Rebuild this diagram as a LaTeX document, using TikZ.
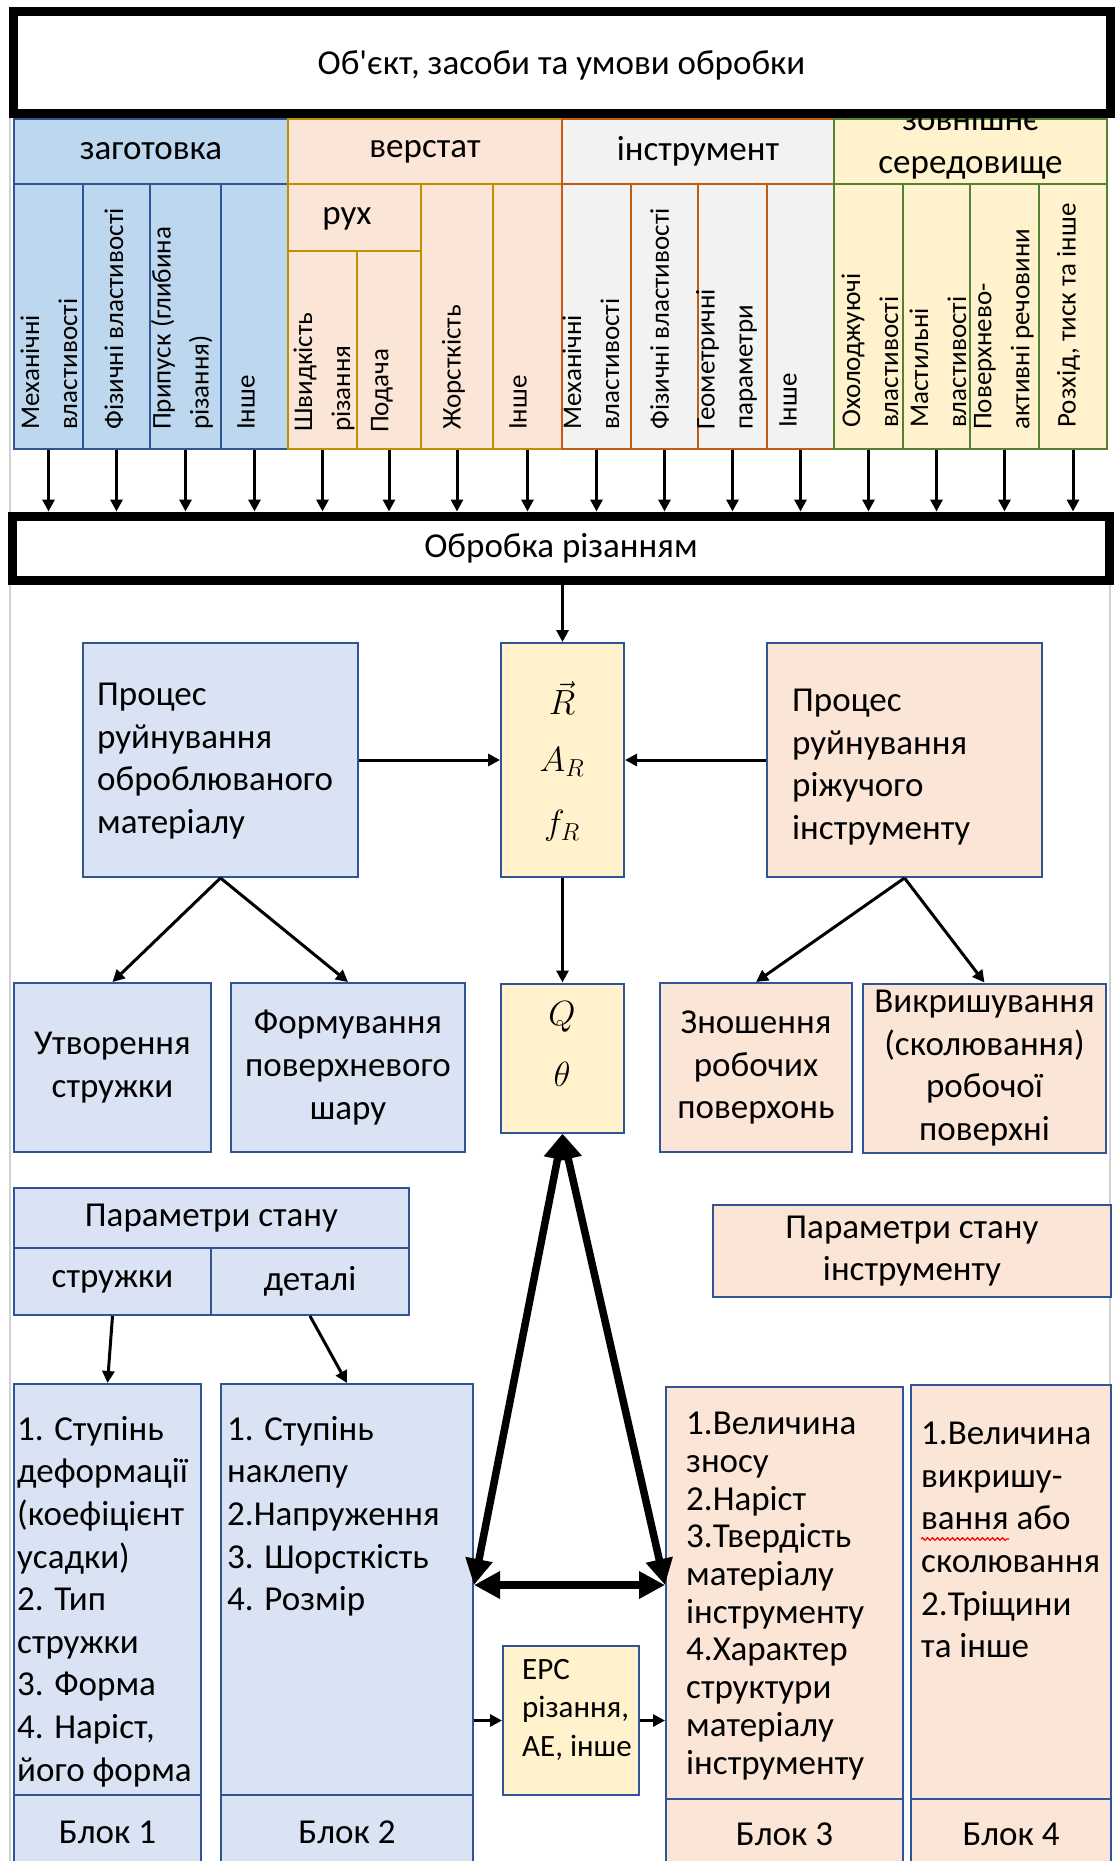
\RequirePackage{fix-cm}
\documentclass[tikz,border=0pt]{standalone}
\usepackage{fontspec}
\setmainfont{Carlito}
\usetikzlibrary{arrows.meta,decorations.pathmorphing}

\definecolor{hdrblue}{HTML}{BDD7EE}
\definecolor{lineblue}{HTML}{2F5597}
\definecolor{boxblue}{HTML}{DAE3F3}
\definecolor{peach}{HTML}{FBE5D6}
\definecolor{gold}{HTML}{BF9000}
\definecolor{lgray}{HTML}{F2F2F2}
\definecolor{rust}{HTML}{C55A11}
\definecolor{cream}{HTML}{FFF2CC}
\definecolor{leaf}{HTML}{548235}

\newcommand{\bigf}{\fontsize{35}{42.6}\selectfont}
\newcommand{\vf}{\fontsize{27}{38}\selectfont}
\newcommand{\smf}{\fontsize{31}{38.5}\selectfont}

\begin{document}
\begin{tikzpicture}[x=1pt, y=-1pt,
  every node/.style={inner sep=0pt, font=\bigf},
  hdr/.style={draw, line width=2pt, minimum height=65},
  col/.style={draw, line width=2pt},
  vtxt/.style={rotate=90, anchor=west, align=left, font=\vf},
  pbox/.style={draw=lineblue, line width=2pt},
  ltxt/.style={anchor=north west, align=left},
  arr/.style={line width=3pt, -{Triangle[length=12pt,width=12pt]}},
  fat/.style={line width=7.5pt, {Triangle[length=26pt,width=26pt]}-{Triangle[length=26pt,width=26pt]}}]
\clip (0,0) rectangle (1116,1861);
\draw[black!18, line width=2.5pt] (10,115) -- (10,1861);
\draw[black!18, line width=2.5pt] (1110,585) -- (1110,1861);

% headers
\node[hdr, fill=hdrblue, draw=lineblue, minimum width=274] (hb) at (151,151.5) {заготовка};
\node[hdr, fill=peach, draw=gold, minimum width=274] (ho) at (425,151.5) {верстат};
\node[hdr, fill=lgray, draw=rust, minimum width=272] (hg) at (698,151.5) {інструмент};
\node[hdr, fill=cream, draw=leaf, minimum width=273] (hgr) at (970.5,151.5) {};
\node[align=center] (hgrt) at (970.5,143) {зовнішнє\\середовище};

% columns
\node[col, fill=hdrblue, draw=lineblue, minimum width=69, minimum height=265] (c1) at (48.5,316.5) {};
\node[col, fill=hdrblue, draw=lineblue, minimum width=67, minimum height=265] (c2) at (116.5,316.5) {};
\node[col, fill=hdrblue, draw=lineblue, minimum width=71, minimum height=265] (c3) at (185.5,316.5) {};
\node[col, fill=hdrblue, draw=lineblue, minimum width=67, minimum height=265] (c4) at (254.5,316.5) {};
\node[col, fill=peach, draw=gold, minimum width=133, minimum height=67] (rux) at (354.5,217.5) {};
\node (ruxt) at (347,219) {рух};
\node[col, fill=peach, draw=gold, minimum width=69, minimum height=198] (c5) at (322.5,350) {};
\node[col, fill=peach, draw=gold, minimum width=64, minimum height=198] (c6) at (389,350) {};
\node[col, fill=peach, draw=gold, minimum width=72, minimum height=265] (c7) at (457,316.5) {};
\node[col, fill=peach, draw=gold, minimum width=69, minimum height=265] (c8) at (527.5,316.5) {};
\node[col, fill=lgray, draw=rust, minimum width=69, minimum height=265] (c9) at (596.5,316.5) {};
\node[col, fill=lgray, draw=rust, minimum width=67, minimum height=265] (c10) at (664.5,316.5) {};
\node[col, fill=lgray, draw=rust, minimum width=69, minimum height=265] (c11) at (732.5,316.5) {};
\node[col, fill=lgray, draw=rust, minimum width=67, minimum height=265] (c12) at (800.5,316.5) {};
\node[col, fill=cream, draw=leaf, minimum width=69, minimum height=265] (c13) at (868.5,316.5) {};
\node[col, fill=cream, draw=leaf, minimum width=67, minimum height=265] (c14) at (936.5,316.5) {};
\node[col, fill=cream, draw=leaf, minimum width=69, minimum height=265] (c15) at (1004.5,316.5) {};
\node[col, fill=cream, draw=leaf, minimum width=68, minimum height=265] (c16) at (1073,316.5) {};

\node[vtxt] (v1) at (49,430) {Механічні\\властивості};
\node[vtxt] (v2) at (114,430) {Фізичні властивості};
\node[vtxt] (v3) at (182,430) {Припуск (глибина\\різання)};
\node[vtxt] (v4) at (246,430) {Інше};
\node[vtxt] (v5) at (324,432) {Швидкість\\різання};
\node[vtxt] (v6) at (382,433) {Подача};
\node[vtxt] (v7) at (453.6,430) {Жорсткість};
\node[vtxt] (v8) at (518,430) {Інше};
\node[vtxt] (v9) at (591,430) {Механічні\\властивості};
\node[vtxt] (v10) at (659.6,430) {Фізичні властивості};
\node[vtxt] (v11) at (726.5,430) {Геометричні\\параметри};
\node[vtxt] (v12) at (788,428) {Інше};
\node[vtxt] (v13) at (870,428) {Охолоджуючі\\властивості};
\node[vtxt] (v14) at (938,428) {Мастильні\\властивості};
\node[vtxt] (v15) at (1004,430) {Поверхнево-\\активні речовини};
\node[vtxt] (v16) at (1068.5,428) {Розхід, тиск та інше};

% the two framed bars
\node[draw, fill=white, line width=9pt, minimum width=1097, minimum height=102] (obj) at (561.5,62) {};
\node (objt) at (561.5,65) {Об\textquotesingle єкт, засоби та умови обробки};
\node[draw, fill=white, line width=9pt, minimum width=1097, minimum height=64] (obr) at (561,548) {Обробка різанням};

\draw[arr] (c1.south) -- (c1.south |- obr.north); \draw[arr] (c2.south) -- (c2.south |- obr.north); \draw[arr] (c3.south) -- (c3.south |- obr.north); \draw[arr] (c4.south) -- (c4.south |- obr.north);
\draw[arr] (c5.south) -- (c5.south |- obr.north); \draw[arr] (c6.south) -- (c6.south |- obr.north); \draw[arr] (c7.south) -- (c7.south |- obr.north); \draw[arr] (c8.south) -- (c8.south |- obr.north);
\draw[arr] (c9.south) -- (c9.south |- obr.north); \draw[arr] (c10.south) -- (c10.south |- obr.north); \draw[arr] (c11.south) -- (c11.south |- obr.north); \draw[arr] (c12.south) -- (c12.south |- obr.north);
\draw[arr] (c13.south) -- (c13.south |- obr.north); \draw[arr] (c14.south) -- (c14.south |- obr.north); \draw[arr] (c15.south) -- (c15.south |- obr.north); \draw[arr] (c16.south) -- (c16.south |- obr.north);

% processes
\node[pbox, fill=boxblue, minimum width=275, minimum height=234] (procL) at (220.5,760) {};
\node[ltxt] (procLt) at (97,683) {Процес\\руйнування\\оброблюваного\\матеріалу};
\node[pbox, fill=cream, minimum width=123, minimum height=234] (force) at (562.5,760) {};
\node (rv) at (562,698) {$\vec{R}$}; \node (ar) at (562,762) {$A_R$}; \node (fr) at (562,826) {$f_R$};
\node[pbox, fill=peach, minimum width=275, minimum height=234] (procR) at (904.5,760) {};
\node[ltxt] (procRt) at (792,689) {Процес\\руйнування\\ріжучого\\інструменту};

\node[pbox, fill=boxblue, minimum width=197, minimum height=169, align=center] (chip) at (112.5,1067.5) {Утворення\\стружки};
\node[pbox, fill=boxblue, minimum width=234, minimum height=169, align=center] (surf) at (348,1067.5) {Формування\\поверхневого\\шару};
\node[pbox, fill=cream, minimum width=123, minimum height=149] (heat) at (562.5,1058) {};
\node (qq) at (562,1017) {$Q$}; \node (th) at (562,1074) {$\theta$};
\node[pbox, fill=peach, minimum width=192, minimum height=169, align=center] (wear) at (756,1067.5) {Зношення\\робочих\\поверхонь};
\node[pbox, fill=peach, minimum width=243, minimum height=169, align=center] (chipng) at (984.5,1068) {Викришування\\(сколювання)\\робочої\\поверхні};

\draw[arr] (obr.south -| force.north) -- (force.north);
\draw[arr] (procL.east) -- (force.west);
\draw[arr] (procR.west) -- (force.east);
\draw[arr] (force.south) -- (heat.north);
\draw[arr] (procL.south) -- (chip.north); \draw[arr] (procL.south) -- (surf.north);
\draw[arr] (procR.south) -- (wear.north); \draw[arr] (procR.south) -- (chipng.north);

% state parameters
\node[pbox, fill=boxblue, minimum width=395, minimum height=60] (pst) at (211.5,1218) {Параметри стану};
\node[pbox, fill=boxblue, minimum width=197, minimum height=67] (pchip) at (112.5,1281.5) {стружки};
\node[pbox, fill=boxblue, minimum width=198, minimum height=67] (pdet) at (310,1281.5) {деталі};
\node[pbox, fill=peach, minimum width=398, minimum height=92, align=center] (ptool) at (912,1251) {Параметри стану\\інструменту};

% blocks
\node[pbox, fill=boxblue, minimum width=187, minimum height=411] (b1) at (107.5,1589.5) {};
\node[ltxt] (b1t) at (17,1416) {1. Ступінь\\деформації\\(коефіцієнт\\усадки)\\2. Тип\\стружки\\3. Форма\\4. Наріст,\\його форма};
\node[pbox, fill=boxblue, minimum width=187, minimum height=75] (b1f) at (107.5,1832.5) {Блок 1};
\node[pbox, fill=boxblue, minimum width=252, minimum height=411] (b2) at (347,1589.5) {};
\node[ltxt] (b2t) at (227,1416) {1. Ступінь\\наклепу\\2.Напруження\\3. Шорсткість\\4. Розмір};
\node[pbox, fill=boxblue, minimum width=252, minimum height=75] (b2f) at (347,1832.5) {Блок 2};
\node[pbox, fill=cream, minimum width=136, minimum height=149] (epc) at (571,1720.5) {};
\node[ltxt, font=\smf] (epct) at (522,1659) {ЕРС\\різання,\\АЕ, інше};
\node[pbox, fill=peach, minimum width=237, minimum height=412] (b3) at (784.5,1593) {};
\node[ltxt, font=\fontsize{35}{37.7}\selectfont] (b3t) at (686,1412) {1.Величина\\зносу\\2.Наріст\\3.Твердість\\матеріалу\\інструменту\\4.Характер\\структури\\матеріалу\\інструменту};
\node[pbox, fill=peach, minimum width=237, minimum height=71] (b3f) at (784.5,1834.5) {Блок 3};
\node[pbox, fill=peach, minimum width=200, minimum height=414] (b4) at (1011,1592) {};
\node[ltxt] (b4t) at (921,1422) {1.Величина\\викришу-\\вання або\\сколювання\\2.Тріщини\\та інше};
\node[pbox, fill=peach, minimum width=200, minimum height=71] (b4f) at (1011,1834.5) {Блок 4};
\draw[red, line width=1.2pt, decorate, decoration={snake, amplitude=1.3pt, segment length=5pt}] (921,1539) -- (1009,1539);

\draw[arr] (pchip.south) -- (b1.north);
\draw[arr] (pdet.south) -- (b2.north);
\draw[arr] (b2.east |- epc.west) -- (epc.west);
\draw[arr] (epc.east) -- (epc.east -| b3.west);

\coordinate (ylev) at (0,1585);
\coordinate (jl) at (b2.east |- ylev);
\coordinate (jr) at (b3.west |- ylev);
\draw[fat] (heat.south) -- (jl); \draw[fat] (heat.south) -- (jr); \draw[fat] (jl) -- (jr);
\end{tikzpicture}
\end{document}
